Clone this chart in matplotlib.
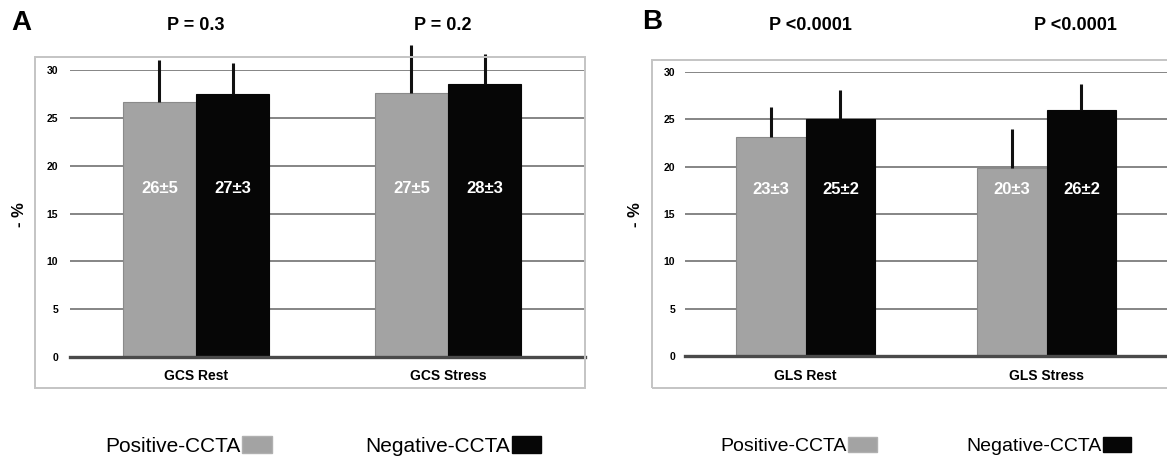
import matplotlib
matplotlib.use("Agg")
import matplotlib.pyplot as plt
import matplotlib.transforms as mtransforms
from matplotlib.patches import Patch, Rectangle
import numpy as np

plt.rcParams['font.family'] = ['Liberation Sans', 'DejaVu Sans']

# panel A: global circumferential strain
gcs_groups = ["GCS Rest", "GCS Stress"]
gcs_pos = [26.7, 27.6]
gcs_neg = [27.5, 28.5]
gcs_pos_err = [4.3, 5.0]
gcs_neg_err = [3.2, 3.2]
gcs_pos_txt = ["26\u00b15", "27\u00b15"]
gcs_neg_txt = ["27\u00b13", "28\u00b13"]
gcs_p = ["P = 0.3", "P = 0.2"]

# panel B: global longitudinal strain
gls_groups = ["GLS Rest", "GLS Stress"]
gls_pos = [23.1, 19.9]
gls_neg = [25.0, 26.0]
gls_pos_err = [3.2, 4.1]
gls_neg_err = [3.1, 2.7]
gls_pos_txt = ["23\u00b13", "20\u00b13"]
gls_neg_txt = ["25\u00b12", "26\u00b12"]
gls_p = ["P <0.0001", "P <0.0001"]

yticks = [0, 5, 10, 15, 20, 25, 30]
legend_labels = ["Positive-CCTA", "Negative-CCTA"]

GRAY = '#a3a3a3'
BLACK = '#060606'
W, H = 1167, 457

fig = plt.figure(figsize=(W / 100, H / 100), dpi=100)


def px(x, y):
    return x / W, 1 - y / H


def panel(rect, xmax, groups, pos, neg, perr, nerr, ptxt, ntxt, pvals, pvx,
          box, letter, letter_xy, ylab_x, tickpad):
    ax = fig.add_axes(rect)
    x = np.arange(len(groups))
    bw = 0.29
    ax.bar(x - bw / 2, pos, bw, color=GRAY, edgecolor='#8a8a8a', lw=0.8, zorder=2)
    ax.bar(x + bw / 2, neg, bw, color=BLACK, edgecolor=BLACK, lw=0.8, zorder=2)
    ax.errorbar(x - bw / 2, pos, yerr=[np.zeros(len(pos)), perr], fmt='none',
                ecolor='#111111', elinewidth=2.2, capsize=0, zorder=3, clip_on=False)
    ax.errorbar(x + bw / 2, neg, yerr=[np.zeros(len(neg)), nerr], fmt='none',
                ecolor='#111111', elinewidth=2.2, capsize=0, zorder=3, clip_on=False)
    for i in range(len(groups)):
        ax.text(x[i] - bw / 2, 17.6, ptxt[i], color='white', fontsize=12,
                fontweight='bold', ha='center', va='center', zorder=4)
        ax.text(x[i] + bw / 2, 17.6, ntxt[i], color='white', fontsize=12,
                fontweight='bold', ha='center', va='center', zorder=4)
    ax.set_xlim(-0.5, xmax)
    ax.set_ylim(0, 30)
    ax.set_yticks(yticks)
    ax.set_yticklabels([str(t) for t in yticks], fontsize=7.5, fontweight='bold')
    ax.set_xticks(x)
    ax.set_xticklabels(groups, fontsize=10, fontweight='bold')
    ax.tick_params(axis='both', length=0)
    ax.tick_params(axis='y', pad=tickpad)
    ax.tick_params(axis='x', pad=9)
    for s in ax.spines.values():
        s.set_visible(False)
    ax.set_axisbelow(True)
    ax.yaxis.grid(True, color='#7c7c7c', lw=1.3)
    ax.axhline(0, color='#4a4a4a', lw=2.4, zorder=3, clip_on=False)
    ax.patch.set_alpha(0)

    tr = mtransforms.blended_transform_factory(ax.transData, fig.transFigure)
    for xi, p in zip(pvx, pvals):
        ax.text(xi, 1 - 25 / H, p, transform=tr, fontsize=13, fontweight='bold',
                ha='center', va='center')

    bx0, by0, bx1, by1 = box
    fig.patches.append(Rectangle(px(bx0, by1), (bx1 - bx0) / W, (by1 - by0) / H,
                                 transform=fig.transFigure, fill=False,
                                 edgecolor='#c4c4c4', lw=1.4, zorder=0))
    fig.text(*px(*letter_xy), letter, fontsize=20, fontweight='bold',
             ha='center', va='center')
    fig.text(*px(ylab_x, 215), "- %", fontsize=12, fontweight='bold',
             rotation=90, ha='center', va='center')
    return ax


panel([70 / W, 100 / H, 515 / W, 287 / H], -0.5 + 515 / 252,
      gcs_groups, gcs_pos, gcs_neg, gcs_pos_err, gcs_neg_err,
      gcs_pos_txt, gcs_neg_txt, gcs_p, [0, 0.98],
      (35, 57, 585, 388), "A", (21, 23), 19, 8.5)

panel([685 / W, 101 / H, 482 / W, 284 / H], -0.5 + 482 / 241,
      gls_groups, gls_pos, gls_neg, gls_pos_err, gls_neg_err,
      gls_pos_txt, gls_neg_txt, gls_p, [0.02, 1.12],
      (652, 60, 1170, 388), "B", (652, 22), 636, 7)

handles = [Patch(facecolor=GRAY, edgecolor='#b0b0b0'),
           Patch(facecolor=BLACK, edgecolor=BLACK)]
for lx, fs, hl, cs in [(105, 15, 1.4, 4.5), (720, 14, 1.45, 4.6)]:
    fig.legend(handles=handles, labels=legend_labels, loc='center left',
               bbox_to_anchor=px(lx, 446), ncol=2, frameon=False,
               markerfirst=False, fontsize=fs, handlelength=hl,
               handleheight=0.85, handletextpad=0.1, columnspacing=cs,
               borderpad=0, borderaxespad=0)

fig.savefig("out.png", dpi=100)
